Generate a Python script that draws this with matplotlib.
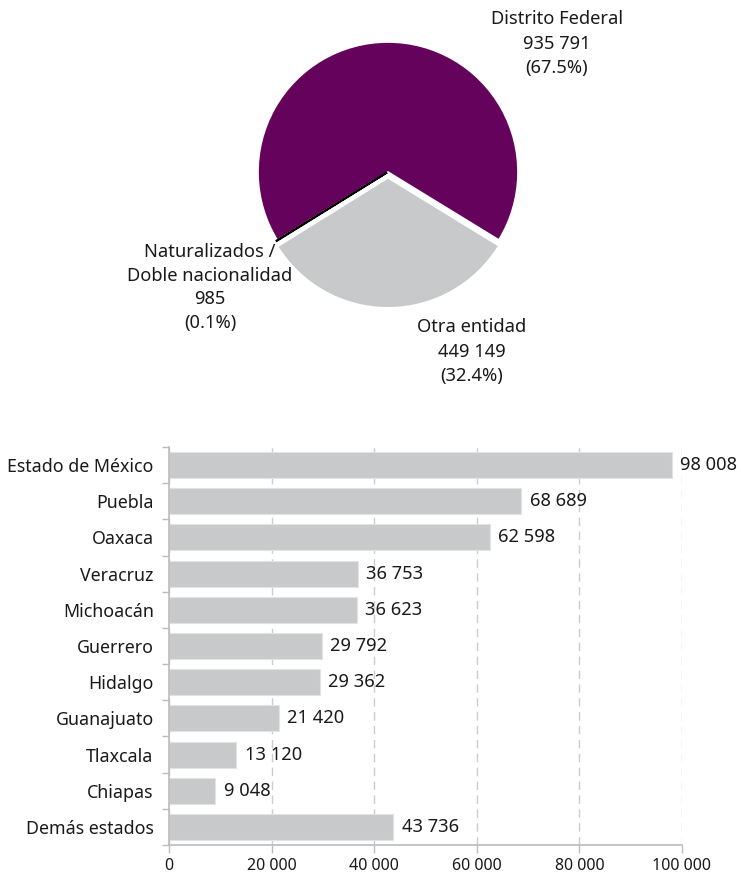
import matplotlib
matplotlib.use("Agg")
import matplotlib.pyplot as plt
from matplotlib.ticker import FixedLocator, FuncFormatter

plt.rcParams['font.family'] = ['Noto Sans', 'DejaVu Sans']

# ---- data ----
pie_labels = ["Distrito Federal", "Naturalizados /\nDoble nacionalidad", "Otra entidad"]
pie_values = [935791, 985, 449149]
pie_pcts = ["67.5%", "0.1%", "32.4%"]
pie_colors = ["#65035c", "#000000", "#c8c9cb"]

states = ["Estado de México", "Puebla", "Oaxaca", "Veracruz", "Michoacán", "Guerrero",
          "Hidalgo", "Guanajuato", "Tlaxcala", "Chiapas", "Demás estados"]
state_values = [98008, 68689, 62598, 36753, 36623, 29792, 29362, 21420, 13120, 9048, 43736]
xticks = [0, 20000, 40000, 60000, 80000, 100000]

W, H = 741, 877
fig = plt.figure(figsize=(W / 100, H / 100), dpi=100)

def fmt(v):
    return f"{v:,}".replace(",", " ")

# ---- pie ----
R = 130
cx, cy = 388, 172
half = 170
axp = fig.add_axes([(cx - half) / W, 1 - (cy + half) / H, 2 * half / W, 2 * half / H])
wedges, _ = axp.pie(pie_values, colors=pie_colors, startangle=-31.5, counterclock=True,
                    explode=[0, 0.008, 0.045], radius=1,
                    wedgeprops=dict(edgecolor="white", linewidth=1.2))
wedges[1].set_edgecolor("#000000")
wedges[1].set_linewidth(1.3)
lim = half / R
axp.set_xlim(-lim, lim)
axp.set_ylim(-lim, lim)
axp.set_aspect("equal")
axp.axis("off")

fs = 13.2
def pix_text(x, y, s, ls):
    fig.text(x / W, 1 - y / H, s, ha="center", va="top", fontsize=fs,
             color="#1a1a1a", linespacing=ls)

pix_text(557, 10, f"{pie_labels[0]}\n{fmt(pie_values[0])}\n({pie_pcts[0]})", 1.47)
pix_text(210, 243, f"{pie_labels[1]}\n{fmt(pie_values[1])}\n({pie_pcts[1]})", 1.4)
pix_text(472, 318, f"{pie_labels[2]}\n{fmt(pie_values[2])}\n({pie_pcts[2]})", 1.47)

# ---- bars ----
left, right, top, bottom = 169, 682, 447, 845
axb = fig.add_axes([left / W, 1 - bottom / H, (right - left) / W, (bottom - top) / H])
ypos = list(range(len(states)))
axb.barh(ypos, state_values, height=0.72, color="#c8c9cb", edgecolor="#e2e3e4",
         linewidth=0.8, zorder=2)
for y, v in zip(ypos, state_values):
    axb.text(v + 1600, y, fmt(v), va="center", ha="left", fontsize=fs, color="#1a1a1a", zorder=3)
axb.set_xlim(0, 100000)
axb.set_ylim(len(states) - 0.5, -0.5)
axb.set_yticks(ypos)
axb.set_yticklabels(states, fontsize=12.8, color="#1a1a1a")
axb.yaxis.set_minor_locator(FixedLocator([i - 0.5 for i in range(len(states) + 1)]))
axb.tick_params(axis="y", which="major", length=0, pad=11)
axb.tick_params(axis="y", which="minor", length=5, color="#bbbbbb", width=1)
axb.set_xticks(xticks)
axb.xaxis.set_major_formatter(FuncFormatter(lambda v, p: fmt(int(v))))
axb.tick_params(axis="x", length=6, color="#bbbbbb", width=1, labelsize=11.5, labelcolor="#1a1a1a", pad=3)
axb.grid(axis="x", linestyle=(0, (6, 4)), color="#cccccc", linewidth=1, zorder=0)
for s in ["top", "right"]:
    axb.spines[s].set_visible(False)
for s in ["left", "bottom"]:
    axb.spines[s].set_color("#bbbbbb")
    axb.spines[s].set_linewidth(1.2)

fig.savefig("out.png", dpi=100)
